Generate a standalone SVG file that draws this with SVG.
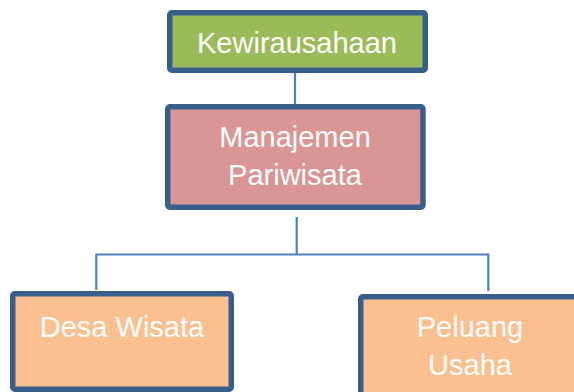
<svg xmlns="http://www.w3.org/2000/svg" width="574" height="392" viewBox="0 0 574 392">
<style>
.box{stroke:#3A5E8C;stroke-width:5.5}
.t{font-family:"Liberation Sans",Arial,sans-serif;font-size:29px;fill:#fff;text-anchor:middle}
.c{fill:none;stroke:#4F81BD;stroke-width:2.2}
</style>
<rect width="574" height="392" fill="#fff"/>
<g id="connectors">
<line class="c" x1="295" y1="73" x2="295" y2="104"/>
<line class="c" x1="296.7" y1="217" x2="296.7" y2="254.5"/>
<polyline class="c" points="96.3,290 96.3,254.5 488.3,254.5 488.3,291"/>
</g>
<g id="kewirausahaan">
<rect class="box" x="169.75" y="12.75" width="255.5" height="57.5" rx="2" fill="#9BBB59"/>
<text class="t" x="297" y="53.3">Kewirausahaan</text>
</g>
<g id="manajemen">
<rect class="box" x="167.75" y="106.75" width="255.2" height="100.5" rx="2" fill="#D99694"/>
<text class="t" x="295" y="146.7">Manajemen</text>
<text class="t" x="295" y="185">Pariwisata</text>
</g>
<g id="desa">
<rect class="box" x="12.75" y="293.75" width="218.5" height="95.5" rx="2" fill="#FAC090"/>
<text class="t" x="122" y="337">Desa Wisata</text>
</g>
<g id="peluang">
<rect class="box" x="360.75" y="296.75" width="225" height="110" rx="2" fill="#FAC090"/>
<text class="t" x="470" y="337">Peluang</text>
<text class="t" x="470" y="375">Usaha</text>
</g>
</svg>
